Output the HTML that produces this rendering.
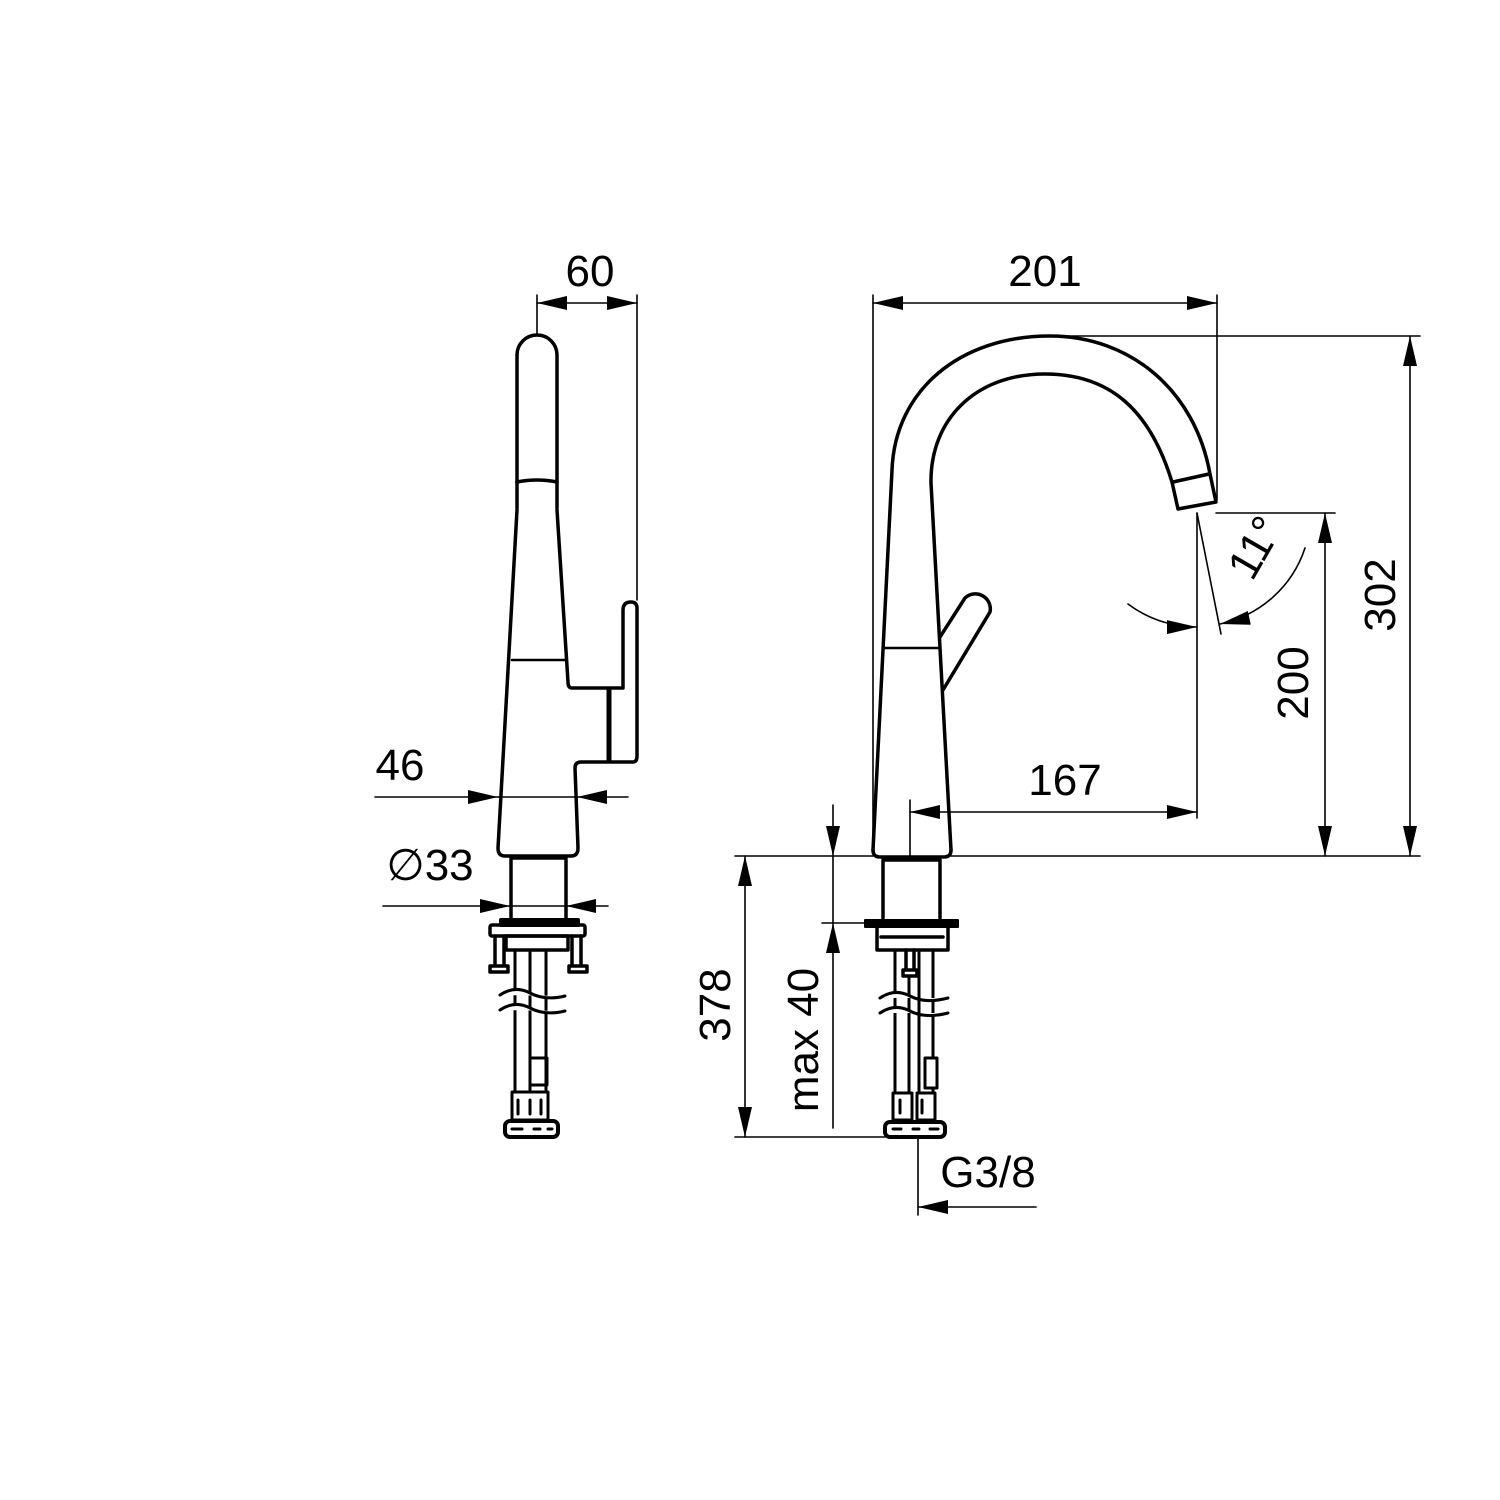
<!DOCTYPE html>
<html><head><meta charset="utf-8"><style>
html,body{margin:0;padding:0;background:#fff}
svg{display:block}
text{font-family:"Liberation Sans",Arial,sans-serif;font-size:44px;fill:#000}
</style></head><body>
<svg width="1500" height="1500" viewBox="0 0 1500 1500" xmlns="http://www.w3.org/2000/svg">
<defs>
<marker id="a" markerUnits="userSpaceOnUse" markerWidth="32" markerHeight="14" refX="30" refY="7" orient="auto-start-reverse"><path d="M0,0 L30,7 L0,14 Z" fill="#000"/></marker>
</defs>
<g fill="none" stroke="#000" stroke-linecap="round" stroke-linejoin="round">
<g stroke-width="3.5">
<path d="M517,355 A20,20 0 0 1 557,355 L557,482"/>
<path d="M517,355 L517,482"/>
<path d="M517,482 Q537,478 557,482 L557,508"/>
<path d="M517,482 L517,508"/>
<path d="M517,510 L498,848 Q498,856 505,856 L571,856 Q578,856 578,848 L575,768 Q575,762 581,762 L633,762 Q637,762 637,756 L637,608 Q637,602 631,602 Q623,602 623,610 L623,688 L572,688 Q568,688 568,682 L557,510"/>
<line x1="609" y1="690" x2="609" y2="760" stroke-width="5"/>
<line x1="512" y1="660" x2="565" y2="660" stroke-width="2.5"/>
<path d="M511,858 L566,858 M511,860 L511,918 M566,860 L566,918"/>
<rect x="501" y="920" width="77" height="5" stroke-width="4" fill="#000"/>
<rect x="490" y="925" width="95" height="11" rx="2"/>
<rect x="506" y="936" width="62" height="14"/>
<path d="M495,936 L495,966 M504,936 L504,966 M490,966 h18 v6 h-18 z"/>
<path d="M572,936 L572,966 M581,936 L581,966 M569,966 h18 v6 h-18 z"/>
<path d="M515,950 V1092 M530,950 V1058 M546,950 V1092 M530,1085 V1092" stroke-width="3"/>
<path d="M530,1058 h17 v27 h-17 z" stroke-width="3"/>
<path d="M512,1092 h36 v28 h-36 z M518,1100 v14 M530,1100 v14 M541,1100 v14" stroke-width="3"/>
<rect x="505" y="1121" width="53" height="16" rx="5" stroke-width="4"/>
<path d="M512,1129 h10 M534,1129 h6 M548,1129 h4" stroke-width="3"/>
</g>
<path d="M500,995 Q515,985 530,993 T565,996 M500,1010 Q515,1000 530,1008 T565,1011" fill="#fff" stroke-width="3"/>
<g stroke-width="1.6">
<line x1="537" y1="295" x2="537" y2="335"/>
<line x1="637" y1="295" x2="637" y2="600"/>
<line x1="537" y1="303" x2="637" y2="303" marker-start="url(#a)" marker-end="url(#a)"/>
<line x1="375" y1="797" x2="498" y2="797" marker-end="url(#a)"/>
<line x1="498" y1="797" x2="577" y2="797"/>
<line x1="628" y1="797" x2="577" y2="797" marker-end="url(#a)"/>
<line x1="383" y1="906" x2="510" y2="906" marker-end="url(#a)"/>
<line x1="510" y1="906" x2="566" y2="906"/>
<line x1="608" y1="906" x2="566" y2="906" marker-end="url(#a)"/>
</g>
<g stroke-width="3.5">
<path d="M873,850 L892,470 C895,390 960,336 1050,336 C1130,336 1195,390 1210,474 L1216,502 L1178,509 L1172,482 C1150,410 1110,374 1045,374 C975,374 930,420 931,483 L951,850"/>
<path d="M1173,482 L1209,474"/>
<path d="M873,850 Q873,857 880,857 L944,857 Q951,857 951,850"/>
<line x1="883" y1="648" x2="939" y2="648" stroke-width="2.5"/>
<path d="M940,637 L965,598 A15,15 0 0 1 990,612 L943,690"/>
<path d="M883,860 L940,860 M883,860 V918 M940,860 V918"/>
<rect x="865" y="920" width="93" height="7" fill="#000" stroke-width="2"/>
<path d="M877,928 V950 H948 V928"/>
<line x1="881" y1="937" x2="943" y2="937"/>
<path d="M906,950 V970 M914,950 V970 M903,970 h14 v6 h-14 z"/>
<path d="M895,950 V1092 M909,976 V1092 M919,950 V1092 M933,950 V1058 M933,1088 V1092" stroke-width="3"/>
<path d="M925,1058 h12 v30 h-12 z" stroke-width="3"/>
<path d="M893,1093 h19 v27 h-19 z M917,1093 h18 v27 h-18 z M900,1100 v13 M922,1100 v13" stroke-width="3"/>
<rect x="885" y="1122" width="60" height="15" rx="5" stroke-width="4"/>
<path d="M893,1129 h8 M913,1129 h6 M930,1129 h8" stroke-width="3"/>
</g>
<path d="M880,998 Q895,988 910,996 T948,998 M880,1013 Q895,1003 910,1011 T948,1013" fill="#fff" stroke-width="3"/>
<g stroke-width="1.6">
<line x1="873" y1="295" x2="873" y2="850"/>
<line x1="1217" y1="295" x2="1217" y2="500"/>
<line x1="873" y1="303" x2="1217" y2="303" marker-start="url(#a)" marker-end="url(#a)"/>
<line x1="1050" y1="336" x2="1420" y2="336"/>
<line x1="951" y1="856" x2="1420" y2="856"/>
<line x1="1410" y1="336" x2="1410" y2="856" marker-start="url(#a)" marker-end="url(#a)"/>
<line x1="1216" y1="513" x2="1335" y2="513"/>
<line x1="1325" y1="513" x2="1325" y2="856" marker-start="url(#a)" marker-end="url(#a)"/>
<line x1="1197" y1="513" x2="1197" y2="818"/>
<line x1="910" y1="800" x2="910" y2="856"/>
<line x1="910" y1="812" x2="1197" y2="812" marker-start="url(#a)" marker-end="url(#a)"/>
<line x1="1197" y1="513" x2="1221" y2="634"/>
<path d="M1128,604 A114,114 0 0 0 1197,627" marker-end="url(#a)"/>
<path d="M1305,548 A114,114 0 0 1 1220,624" marker-end="url(#a)"/>
<line x1="735" y1="856" x2="873" y2="856"/>
<line x1="735" y1="1137" x2="885" y2="1137"/>
<line x1="745" y1="856" x2="745" y2="1137" marker-start="url(#a)" marker-end="url(#a)"/>
<line x1="833" y1="805" x2="833" y2="856" marker-end="url(#a)"/>
<line x1="833" y1="856" x2="833" y2="923"/>
<line x1="822" y1="923" x2="866" y2="923"/>
<line x1="833" y1="1128" x2="833" y2="923" marker-end="url(#a)"/>
<line x1="918" y1="1137" x2="918" y2="1215"/>
<line x1="1036" y1="1207" x2="918" y2="1207" marker-end="url(#a)"/>
</g>
</g>
<text x="590" y="286" text-anchor="middle">60</text>
<text x="400" y="780" text-anchor="middle">46</text>
<text x="430" y="880" text-anchor="middle">∅33</text>
<text x="1045" y="286" text-anchor="middle">201</text>
<text x="1065" y="795" text-anchor="middle">167</text>
<text x="988" y="1187" text-anchor="middle">G3/8</text>
<text transform="translate(1395,595) rotate(-90)" text-anchor="middle">302</text>
<text transform="translate(1308,683) rotate(-90)" text-anchor="middle">200</text>
<text transform="translate(730,1005) rotate(-90)" text-anchor="middle">378</text>
<text transform="translate(818,1040) rotate(-90)" text-anchor="middle">max  40</text>
<text transform="translate(1268,555) rotate(-60)" text-anchor="middle">11°</text>
</svg>
</body></html>
